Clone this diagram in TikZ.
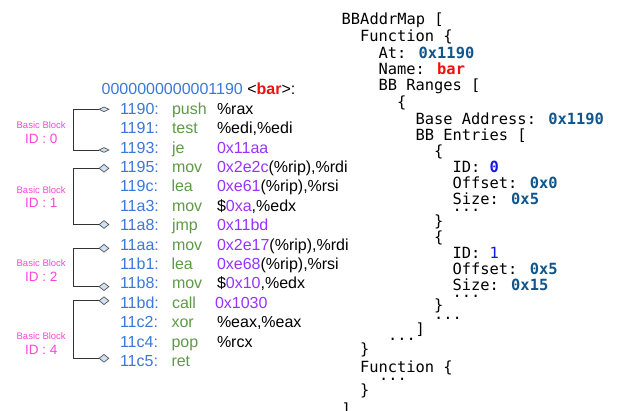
\documentclass[tikz,border=0pt]{standalone}
\usepackage{fontspec}
\setmainfont{Liberation Sans}
\newfontfamily\mymono{DejaVu Sans Mono}
\usetikzlibrary{shapes.geometric}
\definecolor{addrblue}{HTML}{3C78D8}
\definecolor{mnemgreen}{HTML}{5E9A47}
\definecolor{operpurple}{HTML}{9933FF}
\definecolor{barred}{HTML}{EE1111}
\definecolor{bbpink}{HTML}{FF44DD}
\definecolor{diafill}{HTML}{CFE2F3}
\definecolor{diagray}{HTML}{555555}
\definecolor{linegray}{HTML}{333333}
\definecolor{valblue}{HTML}{10568C}
\definecolor{idblue}{HTML}{1515F0}
\newcommand{\myrowfont}{\fontsize{16}{18}\selectfont}
\newcommand{\myheadfont}{\fontsize{16}{18}\selectfont}
\newcommand{\mybbfont}{\fontsize{9.5}{11}\selectfont}
\newcommand{\myidfont}{\fontsize{13.5}{15}\selectfont}
\newcommand{\mycodefont}{\mymono\fontsize{15.4}{17}\selectfont}
\newcommand{\pv}[1]{\textcolor{operpurple}{#1}}
\newcommand{\vb}[1]{\textcolor{valblue}{\bfseries #1}}
\begin{document}
\begin{tikzpicture}[x=1pt,y=-1pt,
  txt/.style={anchor=base west, inner sep=0pt, outer sep=0pt},
  addr/.style={txt, font=\myrowfont, text=addrblue},
  mnem/.style={txt, font=\myrowfont, text=mnemgreen},
  oper/.style={txt, font=\myrowfont, text=black},
  code/.style={txt, font=\mycodefont, text=black},
  bblab/.style={anchor=base, inner sep=0pt, font=\mybbfont, text=bbpink},
  idlab/.style={anchor=base, inner sep=0pt, font=\myidfont, text=bbpink},
  dia/.style={diamond, draw=diagray, fill=diafill, line width=0.7pt, inner sep=0pt, minimum width=10pt, minimum height=8pt},
  diaflat/.style={dia, minimum height=5pt},
  brk/.style={draw=linegray, line width=0.9pt}]
\useasboundingbox (0,0) rectangle (625,411);
\fill[white] (0,0) rectangle (625,411);

% header
\node[txt, font=\myheadfont] (head) at (101.7,95) {\textcolor{addrblue}{0000000000001190} <\textcolor{barred}{\bfseries bar}>:};

% rows
\node[addr] (a0) at (120,114.3) {1190:}; \node[mnem] (m0) at (172,114.3) {push}; \node[oper] (o0) at (217,114.3) {\%rax};
\node[addr] (a1) at (120,133.7) {1191:}; \node[mnem] (m1) at (172,133.7) {test}; \node[oper] (o1) at (217,133.7) {\%edi,\%edi};
\node[addr] (a2) at (120,153.1) {1193:}; \node[mnem] (m2) at (172,153.1) {je}; \node[oper] (o2) at (217,153.1) {\pv{0x11aa}};
\node[addr] (a3) at (120,172.5) {1195:}; \node[mnem] (m3) at (172,172.5) {mov}; \node[oper] (o3) at (217,172.5) {\pv{0x2e2c}(\%rip),\%rdi};
\node[addr] (a4) at (120,191.9) {119c:}; \node[mnem] (m4) at (171.5,191.9) {lea}; \node[oper] (o4) at (217,191.9) {\pv{0xe61}(\%rip),\%rsi};
\node[addr] (a5) at (120,211.3) {11a3:}; \node[mnem] (m5) at (172,211.3) {mov}; \node[oper] (o5) at (217,211.3) {\$\pv{0xa},\%edx};
\node[addr] (a6) at (120,230.7) {11a8:}; \node[mnem] (m6) at (172,230.7) {jmp}; \node[oper] (o6) at (217,230.7) {\pv{0x11bd}};
\node[addr] (a7) at (120,250.1) {11aa:}; \node[mnem] (m7) at (172,250.1) {mov}; \node[oper] (o7) at (217,250.1) {\pv{0x2e17}(\%rip),\%rdi};
\node[addr] (a8) at (120,269.5) {11b1:}; \node[mnem] (m8) at (171.5,269.5) {lea}; \node[oper] (o8) at (217,269.5) {\pv{0xe68}(\%rip),\%rsi};
\node[addr] (a9) at (120,288.9) {11b8:}; \node[mnem] (m9) at (172,288.9) {mov}; \node[oper] (o9) at (217,288.9) {\$\pv{0x10},\%edx};
\node[addr] (a10) at (120,308.3) {11bd:}; \node[mnem] (m10) at (172,308.3) {call}; \node[oper] (o10) at (215,308.3) {\pv{0x1030}};
\node[addr] (a11) at (120,327.7) {11c2:}; \node[mnem] (m11) at (171.5,327.7) {xor}; \node[oper] (o11) at (217,327.7) {\%eax,\%eax};
\node[addr] (a12) at (120,347.1) {11c4:}; \node[mnem] (m12) at (171.5,347.1) {pop}; \node[oper] (o12) at (217,347.1) {\%rcx};
\node[addr] (a13) at (120,366.5) {11c5:}; \node[mnem] (m13) at (171.5,366.5) {ret};

% diamonds
\node[diaflat] (d0t) at (104,109.3) {};
\node[diaflat] (d0b) at (104,150) {};
\node[dia] (d1t) at (104,168.3) {};
\node[dia] (d1b) at (104,224.5) {};
\node[dia] (d2t) at (104,248.3) {};
\node[dia] (d2b) at (104,286.7) {};
\node[dia] (d4t) at (104,300.7) {};
\node[dia] (d4b) at (104,358.3) {};

% brackets
\draw[brk] (d0t.west) -- ++(-25.7,0) |- (d0b.west);
\draw[brk] (d1t.west) -- ++(-25.7,0) |- (d1b.west);
\draw[brk] (d2t.west) -- ++(-25.7,0) |- (d2b.west);
\draw[brk] (d4t.west) -- ++(-25.7,0) |- (d4b.west);

% labels
\node[bblab] (bb0) at (41.2,128.3) {Basic Block}; \node[idlab] (id0) at (41.2,143.3) {ID : 0};
\node[bblab] (bb1) at (41.2,193.3) {Basic Block}; \node[idlab] (id1) at (41.2,208) {ID : 1};
\node[bblab] (bb2) at (41.2,266.7) {Basic Block}; \node[idlab] (id2) at (41.2,281.7) {ID : 2};
\node[bblab] (bb4) at (41.2,340) {Basic Block}; \node[idlab] (id4) at (41.2,355) {ID : 4};

% right side
\node[code] (r1) at (341.7,25) {BBAddrMap [};
\node[code] (r2) at (360,41.7) {Function \{};
\node[code] (r3) at (378.5,58.3) {At: \vb{0x1190}};
\node[code] (r4) at (378.5,75) {Name: \textcolor{barred}{\bfseries bar}};
\node[code] (r5) at (378.5,91) {BB Ranges [};
\node[code] (r6) at (397,108) {\{};
\node[code] (r7) at (415.5,124.5) {Base Address: \vb{0x1190}};
\node[code] (r8) at (415.5,140.5) {BB Entries [};
\node[code] (r9) at (434,157) {\{};
\node[code] (r10) at (452.5,173) {ID: \textcolor{idblue}{\bfseries 0}};
\node[code] (r11) at (452.5,189) {Offset: \vb{0x0}};
\node[code] (r12) at (452.5,204.5) {Size: \vb{0x5}};
\node[code] (r13) at (452.5,211.5) {...};
\node[code] (r14) at (434,227) {\}};
\node[code] (r15) at (434,243) {\{};
\node[code] (r16) at (452.5,259) {ID: \textcolor{idblue}{1}};
\node[code] (r17) at (452.5,275) {Offset: \vb{0x5}};
\node[code] (r18) at (452.5,291) {Size: \vb{0x15}};
\node[code] (r19) at (452.5,297.5) {...};
\node[code] (r20) at (434,311) {\}};
\node[code] (r21) at (434,319.5) {...};
\node[code] (r22) at (415.5,335) {]};
\node[code] (r23) at (388,340.5) {...};
\node[code] (r24) at (360,355) {\}};
\node[code] (r25) at (360,373) {Function \{};
\node[code] (r26) at (379,380.5) {...};
\node[code] (r27) at (360,396) {\}};
\node[code] (r28) at (341.7,415) {]};
\end{tikzpicture}
\end{document}
